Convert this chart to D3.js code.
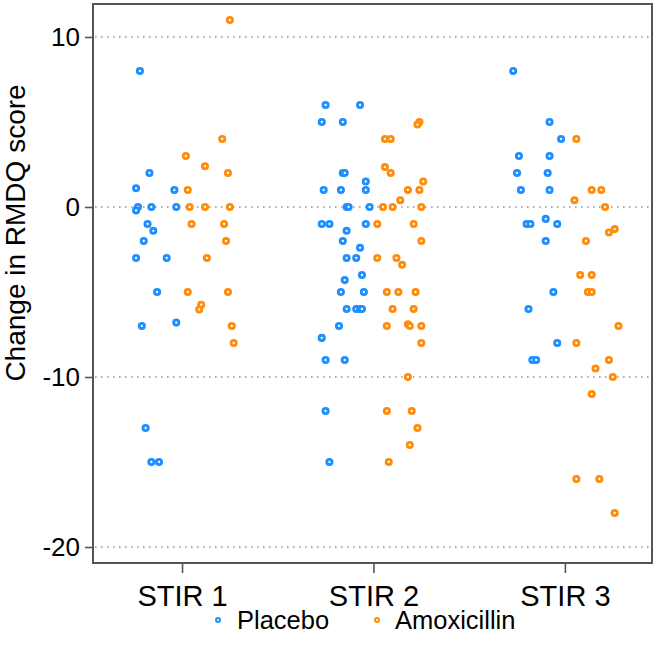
<!DOCTYPE html>
<html>
<head>
<meta charset="utf-8">
<script src="https://cdn.jsdelivr.net/npm/d3@7"></script>
<style>
  html, body { margin: 0; padding: 0; background: #fff; }
  svg { display: block; font-family: "Liberation Sans", Arial, sans-serif; }
</style>
</head>
<body>
<svg id="chart" width="657" height="660"></svg>
<script>
// ---- Data ----
const studies = ["STIR 1", "STIR 2", "STIR 3"];
const groups = ["Placebo", "Amoxicillin"];
const colors = ["#1f8fff", "#ff8c0a"];
const yTicks = [10, 0, -10, -20];
const yTickLabels = ["10", "0", "-10", "-20"];

// Each point: [horizontal jitter in category units, change in RMDQ score]
const placebo1 = [[-0.22,8],[-0.17,2],[-0.24,1.1],[-0.04,1],[-0.23,0],[-0.24,-0.2],[-0.16,0],[-0.03,0],
  [-0.18,-1],[-0.15,-1.4],[-0.20,-2],[-0.24,-3],[-0.08,-3],[-0.13,-5],[-0.21,-7],[-0.03,-6.8],
  [-0.19,-13],[-0.16,-15],[-0.12,-15]];
const amox1 = [[0.25,11],[0.21,4],[0.02,3],[0.12,2.4],[0.24,2],[0.03,1],[0.04,0],[0.12,0],[0.25,0],
  [0.05,-1],[0.22,-1],[0.23,-2],[0.13,-3],[0.03,-5],[0.24,-5],[0.10,-5.75],[0.09,-6.03],[0.26,-7],[0.27,-8]];
const placebo2 = [[-0.25,6],[-0.07,6],[-0.27,5],[-0.16,5],[-0.16,2],[-0.15,2],[-0.04,1.5],[-0.26,1],
  [-0.17,1],[-0.04,1],[-0.14,0],[-0.13,0],[-0.02,0],[-0.27,-1],[-0.23,-1],[-0.04,-1],[-0.14,-1.4],
  [-0.16,-2],[-0.07,-2.4],[-0.14,-3],[-0.09,-3],[-0.06,-4],[-0.15,-4.3],[-0.17,-5],[-0.05,-5],
  [-0.14,-6],[-0.09,-6],[-0.07,-6],[-0.06,-6],[-0.18,-7],[-0.27,-7.7],[-0.25,-9],[-0.15,-9],
  [-0.25,-12],[-0.23,-15]];
const amox2 = [[0.24,5],[0.23,4.85],[0.06,4],[0.09,4],[0.06,2.35],[0.09,2],[0.26,1.5],[0.18,1],[0.24,1],
  [0.14,0.4],[0.05,0],[0.10,0],[0.25,0],[0.02,-1],[0.21,-1],[0.25,-2],[0.02,-3],[0.12,-3],[0.15,-3.4],
  [0.07,-5],[0.13,-5],[0.22,-5],[0.10,-6],[0.21,-6],[0.07,-7],[0.18,-6.9],[0.19,-7],[0.25,-7],
  [0.25,-8],[0.18,-10],[0.07,-12],[0.20,-12],[0.23,-13],[0.19,-14],[0.08,-15]];
const placebo3 = [[-0.27,8],[-0.08,5],[-0.02,4],[-0.24,3],[-0.08,3],[-0.25,2],[-0.09,2],[-0.23,1],
  [-0.08,1],[-0.10,-0.7],[-0.20,-1],[-0.18,-1],[-0.04,-1],[-0.10,-2],[-0.06,-5],[-0.19,-6],
  [-0.04,-8],[-0.17,-9],[-0.15,-9]];
const amox3 = [[0.06,4],[0.14,1],[0.19,1],[0.05,0.4],[0.21,0],[0.23,-1.5],[0.26,-1.3],[0.11,-2],
  [0.08,-4],[0.14,-4],[0.12,-5],[0.14,-5],[0.28,-7],[0.06,-8],[0.23,-9],[0.16,-9.5],[0.25,-10],
  [0.14,-11],[0.06,-16],[0.18,-16],[0.26,-18]];

const series = [
  { group: 0, study: 0, pts: placebo1 }, { group: 1, study: 0, pts: amox1 },
  { group: 0, study: 1, pts: placebo2 }, { group: 1, study: 1, pts: amox2 },
  { group: 0, study: 2, pts: placebo3 }, { group: 1, study: 2, pts: amox3 }
];

// ---- Layout ----
const svg = d3.select("#chart");
const pLeft = 93, pRight = 652, pTop = 4, pBottom = 563;

const x = d3.scaleLinear().domain([0.535, 3.455]).range([pLeft, pRight]);
const y = d3.scaleLinear().domain([-20.94, 11.94]).range([pBottom, pTop]);

// gridlines
svg.append("g").selectAll("line").data(yTicks).join("line")
  .attr("x1", pLeft + 2).attr("x2", pRight - 2)
  .attr("y1", d => y(d)).attr("y2", d => y(d))
  .attr("stroke", "#9a9a9a").attr("stroke-width", 1.6)
  .attr("stroke-dasharray", "1.6,4.4");

// y axis
const yAxis = svg.append("g").attr("transform", `translate(${pLeft},0)`)
  .call(d3.axisLeft(y).tickValues(yTicks).tickSize(8).tickPadding(5)
    .tickFormat((d, i) => yTickLabels[i]));
yAxis.select(".domain").remove();
yAxis.selectAll(".tick line").attr("stroke", "#555").attr("stroke-width", 1.6);
yAxis.selectAll(".tick text").attr("font-size", 26).attr("fill", "#000")
  .attr("font-family", "Liberation Sans, Arial, sans-serif");

// x axis
const xAxis = svg.append("g").attr("transform", `translate(0,${pBottom})`)
  .call(d3.axisBottom(x).tickValues([1, 2, 3]).tickSize(10).tickPadding(12)
    .tickFormat(d => studies[d - 1]));
xAxis.select(".domain").remove();
xAxis.selectAll(".tick line").attr("stroke", "#555").attr("stroke-width", 1.6);
xAxis.selectAll(".tick text").attr("font-size", 29).attr("fill", "#000")
  .attr("font-family", "Liberation Sans, Arial, sans-serif");

// frame
svg.append("rect").attr("x", pLeft).attr("y", pTop)
  .attr("width", pRight - pLeft).attr("height", pBottom - pTop)
  .attr("fill", "none").attr("stroke", "#555").attr("stroke-width", 2);

// points
series.forEach(s => {
  svg.append("g").selectAll("circle").data(s.pts).join("circle")
    .attr("cx", d => x(s.study + 1 + d[0]))
    .attr("cy", d => y(d[1]))
    .attr("r", 2.6)
    .attr("fill", "#fff")
    .attr("stroke", colors[s.group])
    .attr("stroke-width", 2.9);
});

// y title
svg.append("text")
  .attr("transform", `translate(25,233) rotate(-90)`)
  .attr("text-anchor", "middle")
  .attr("font-size", 28)
  .attr("fill", "#000")
  .text("Change in RMDQ score");

// legend
const legendItems = [
  { label: groups[0], cx: 218, tx: 237 },
  { label: groups[1], cx: 377, tx: 395 }
];
const lg = svg.append("g");
legendItems.forEach((it, i) => {
  lg.append("circle").attr("cx", it.cx).attr("cy", 620).attr("r", 2)
    .attr("fill", "#fff").attr("stroke", colors[i]).attr("stroke-width", 2);
  lg.append("text").attr("x", it.tx).attr("y", 629)
    .attr("font-size", 25.5).attr("fill", "#000").text(it.label);
});
</script>
</body>
</html>
